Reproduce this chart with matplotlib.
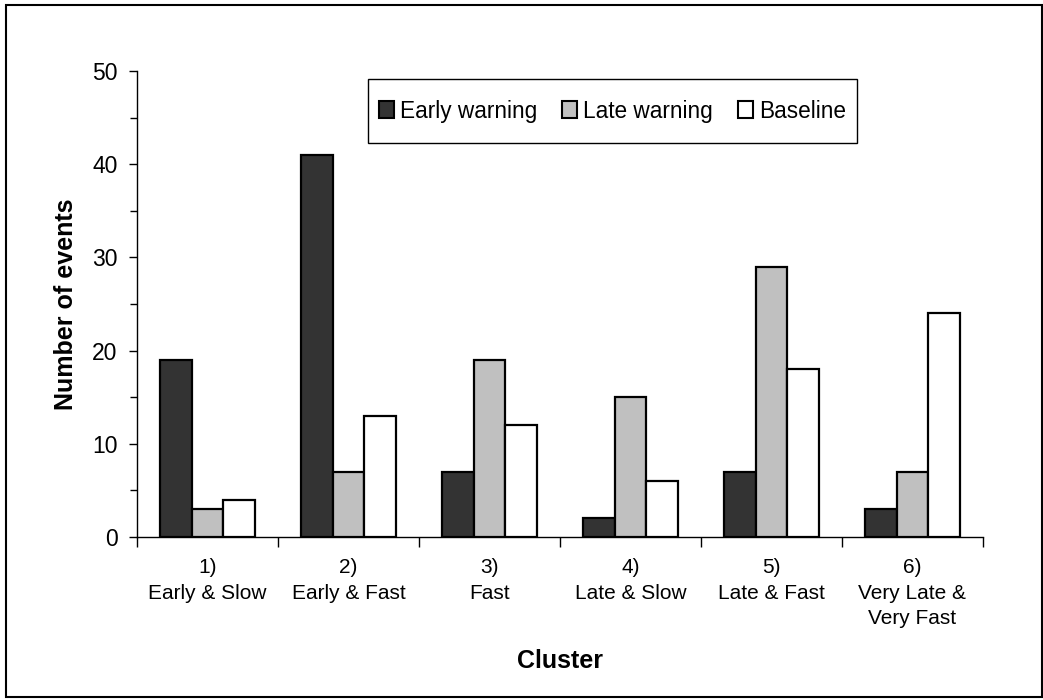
import numpy as np
import matplotlib.pyplot as plt
from matplotlib.ticker import MultipleLocator

plt.rcParams['font.family'] = ['Liberation Sans', 'DejaVu Sans']

# Data
clusters = ["1)\nEarly & Slow", "2)\nEarly & Fast", "3)\nFast",
            "4)\nLate & Slow", "5)\nLate & Fast", "6)\nVery Late &\nVery Fast"]
early_warning = [19, 41, 7, 2, 7, 3]
late_warning = [3, 7, 19, 15, 29, 7]
baseline = [4, 13, 12, 6, 18, 24]

series_names = ["Early warning", "Late warning", "Baseline"]
colors = ["#333333", "#c0c0c0", "#ffffff"]

fig = plt.figure(figsize=(10.43, 7), dpi=100)
# black frame around the whole picture
fig.patches.append(plt.Rectangle((6 / 1043, 3 / 700), 1036 / 1043, 692 / 700,
                                 transform=fig.transFigure, fill=False,
                                 edgecolor='black', linewidth=1.5))

ax = fig.add_axes([137 / 1043, 1 - 537 / 700, 846 / 1043, 466 / 700])

x = np.arange(1, len(clusters) + 1)
w = 0.223
for k, (vals, name, c) in enumerate(zip([early_warning, late_warning, baseline], series_names, colors)):
    ax.bar(x + (k - 1) * w, vals, width=w, color=c, edgecolor='black',
           linewidth=1.6, label=name, zorder=3)

ax.set_xlim(0.5, len(clusters) + 0.5)
ax.set_ylim(0, 50)

# y ticks
ax.yaxis.set_major_locator(MultipleLocator(10))
ax.yaxis.set_minor_locator(MultipleLocator(5))
ax.tick_params(axis='y', which='major', length=6, width=1, labelsize=16.5, pad=8)
ax.tick_params(axis='y', which='minor', length=5, width=1)

# x ticks between categories, labels centered
ax.set_xticks(np.arange(0.5, len(clusters) + 1, 1))
ax.set_xticklabels([])
ax.set_xticks(x, minor=True)
ax.set_xticklabels(clusters, minor=True, fontsize=15, linespacing=1.45, va='top')
ax.tick_params(axis='x', which='major', length=7, width=1)
ax.tick_params(axis='x', which='minor', length=0, pad=15)

for s in ['top', 'right']:
    ax.spines[s].set_visible(False)
ax.spines['left'].set_linewidth(1)
ax.spines['bottom'].set_linewidth(1)

ax.set_ylabel("Number of events", fontsize=18, fontweight='bold', labelpad=10)
ax.set_xlabel("Cluster", fontsize=18, fontweight='bold', labelpad=15)

# legend box drawn separately so its size matches
box = plt.Rectangle((0.273, 0.845), 0.578, 0.138, transform=ax.transAxes,
                    facecolor='white', edgecolor='black', linewidth=1, zorder=5)
ax.add_patch(box)
leg = ax.legend(loc='center', bbox_to_anchor=(0.562, 0.914), ncol=3,
                fontsize=16.3, frameon=False,
                handlelength=0.68, handleheight=0.75, handletextpad=0.27,
                columnspacing=1.08, borderpad=0.2, borderaxespad=0)
leg.set_zorder(6)
for h in leg.legend_handles:
    h.set_linewidth(1.5)

plt.savefig("out.png", dpi=100)
